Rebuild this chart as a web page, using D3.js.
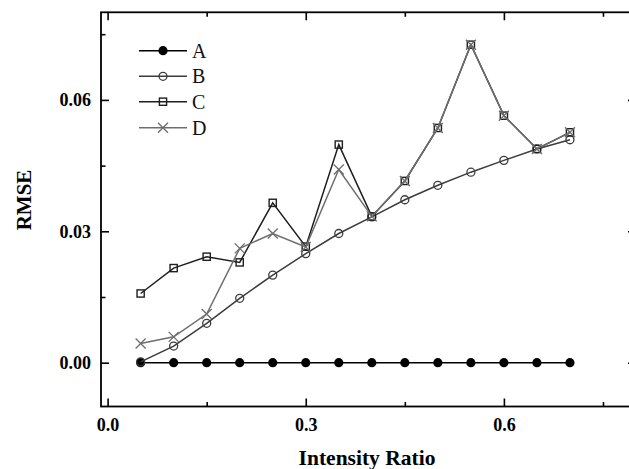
<!DOCTYPE html>
<html>
<head>
<meta charset="utf-8">
<script src="https://cdn.jsdelivr.net/npm/d3@7"></script>
<style>
  html, body { margin: 0; padding: 0; background: #fff; }
  svg { display: block; }
  text { font-family: "Liberation Serif", "Times New Roman", serif; }
</style>
</head>
<body>
<script>
const xValues = [0.05, 0.10, 0.15, 0.20, 0.25, 0.30, 0.35, 0.40, 0.45, 0.50, 0.55, 0.60, 0.65, 0.70];
const seriesA = [0, 0, 0, 0, 0, 0, 0, 0, 0, 0, 0, 0, 0, 0];
const seriesB = [0.0002, 0.0038, 0.0090, 0.0147, 0.0200, 0.0249, 0.0295, 0.0333, 0.0372, 0.0405, 0.0435, 0.0462, 0.0488, 0.0509];
const seriesC = [0.0158, 0.0216, 0.0242, 0.0229, 0.0365, 0.0265, 0.0498, 0.0334, 0.0415, 0.0536, 0.0726, 0.0564, 0.0488, 0.0526];
const seriesD = [0.0044, 0.0059, 0.0111, 0.0261, 0.0295, 0.0264, 0.0441, 0.0334, 0.0415, 0.0536, 0.0726, 0.0564, 0.0488, 0.0526];
const seriesNames = ["A", "B", "C", "D"];
const xMajorTicks = [0.0, 0.3, 0.6];
const xMinorTicks = [0.15, 0.45, 0.75];
const yMajorTicks = [0.00, 0.03, 0.06];
const yMinorTicks = [0.015, 0.045, 0.075];

(function () {
const W = 629, H = 469;
const pLeft = 101, pRight = 636, pTop = 12.3, pBottom = 406.5;

const svg = d3.select("body").append("svg").attr("width", W).attr("height", H);

const x = d3.scaleLinear().domain([-0.01, 0.8]).range([pLeft, pRight]);
const y = d3.scaleLinear().domain([-0.01, 0.08]).range([pBottom, pTop]);

const styles = {
  A: {color: "#000000", marker: "filledCircle"},
  B: {color: "#3c3c3c", marker: "circle"},
  C: {color: "#1e1e1e", marker: "square"},
  D: {color: "#6e6e6e", marker: "cross"}
};
const dataMap = {A: seriesA, B: seriesB, C: seriesC, D: seriesD};

const fmtX = d3.format(".1f"), fmtY = d3.format(".2f");
function styleAxis(g) {
  g.attr("font-family", null);
  g.select(".domain").remove();
  g.selectAll(".tick line").attr("stroke", "#000").attr("stroke-width", 1.6);
  g.selectAll("text").attr("font-size", "18px").attr("font-weight", "bold").attr("fill", "#000")
    .style("font-family", '"Liberation Serif", "Times New Roman", serif');
}
svg.append("g").attr("transform", `translate(0,${pBottom})`)
  .call(d3.axisBottom(x).tickValues(xMajorTicks).tickSize(-8).tickPadding(12).tickFormat(fmtX)).call(styleAxis);
svg.append("g").attr("transform", `translate(0,${pBottom})`)
  .call(d3.axisBottom(x).tickValues(xMinorTicks).tickSize(-4.5).tickFormat("")).call(styleAxis);
svg.append("g").attr("transform", `translate(0,${pTop})`)
  .call(d3.axisTop(x).tickValues(xMajorTicks).tickSize(-8).tickFormat("")).call(styleAxis);
svg.append("g").attr("transform", `translate(0,${pTop})`)
  .call(d3.axisTop(x).tickValues(xMinorTicks).tickSize(-4.5).tickFormat("")).call(styleAxis);
svg.append("g").attr("transform", `translate(${pLeft},0)`)
  .call(d3.axisLeft(y).tickValues(yMajorTicks).tickSize(-8).tickPadding(10).tickFormat(fmtY)).call(styleAxis);
svg.append("g").attr("transform", `translate(${pLeft},0)`)
  .call(d3.axisLeft(y).tickValues(yMinorTicks).tickSize(-4.5).tickFormat("")).call(styleAxis);
svg.append("g").attr("transform", `translate(${pRight},0)`)
  .call(d3.axisRight(y).tickValues(yMajorTicks).tickSize(-8).tickFormat("")).call(styleAxis);
svg.append("g").attr("transform", `translate(${pRight},0)`)
  .call(d3.axisRight(y).tickValues(yMinorTicks).tickSize(-4.5).tickFormat("")).call(styleAxis);

svg.append("rect").attr("x", pLeft).attr("y", pTop).attr("width", pRight - pLeft).attr("height", pBottom - pTop)
  .attr("fill", "none").attr("stroke", "#000").attr("stroke-width", 1.8);

svg.append("text").attr("x", 367).attr("y", 465).attr("text-anchor", "middle")
  .attr("font-size", "21.5px").attr("font-weight", "bold").text("Intensity Ratio");
svg.append("text").attr("transform", `translate(31,200) rotate(-90)`).attr("text-anchor", "middle")
  .attr("font-size", "21px").attr("font-weight", "bold").text("RMSE");

function drawMarker(g, type, color, cx, cy) {
  if (type === "filledCircle") {
    g.append("circle").attr("cx", cx).attr("cy", cy).attr("r", 4.6).attr("fill", color);
  } else if (type === "circle") {
    g.append("circle").attr("cx", cx).attr("cy", cy).attr("r", 4).attr("fill", "none")
      .attr("stroke", color).attr("stroke-width", 1.3);
  } else if (type === "square") {
    g.append("rect").attr("x", cx - 3.6).attr("y", cy - 3.6).attr("width", 7.2).attr("height", 7.2)
      .attr("fill", "none").attr("stroke", color).attr("stroke-width", 1.4);
  } else if (type === "cross") {
    const s = 5;
    g.append("path").attr("d", `M${cx - s},${cy - s}L${cx + s},${cy + s}M${cx - s},${cy + s}L${cx + s},${cy - s}`)
      .attr("stroke", color).attr("stroke-width", 1.3).attr("fill", "none");
  }
}

const line = d3.line().x(d => x(d[0])).y(d => y(d[1]));
seriesNames.forEach(name => {
  const st = styles[name];
  const pts = xValues.map((xv, i) => [xv, dataMap[name][i]]);
  const g = svg.append("g");
  g.append("path").attr("d", line(pts)).attr("fill", "none").attr("stroke", st.color).attr("stroke-width", 1.5);
  pts.forEach(p => drawMarker(g, st.marker, st.color, x(p[0]), y(p[1])));
});

const legY = [50.7, 76.3, 101.7, 127.7];
seriesNames.forEach((name, i) => {
  const st = styles[name];
  const g = svg.append("g");
  g.append("line").attr("x1", 139).attr("x2", 187).attr("y1", legY[i]).attr("y2", legY[i])
    .attr("stroke", st.color).attr("stroke-width", 1.5);
  drawMarker(g, st.marker, st.color, 163, legY[i]);
  g.append("text").attr("x", 192).attr("y", legY[i]).attr("dy", "0.35em")
    .attr("font-size", "20px").attr("fill", "#111").text(name);
});
})();
</script>
</body>
</html>
